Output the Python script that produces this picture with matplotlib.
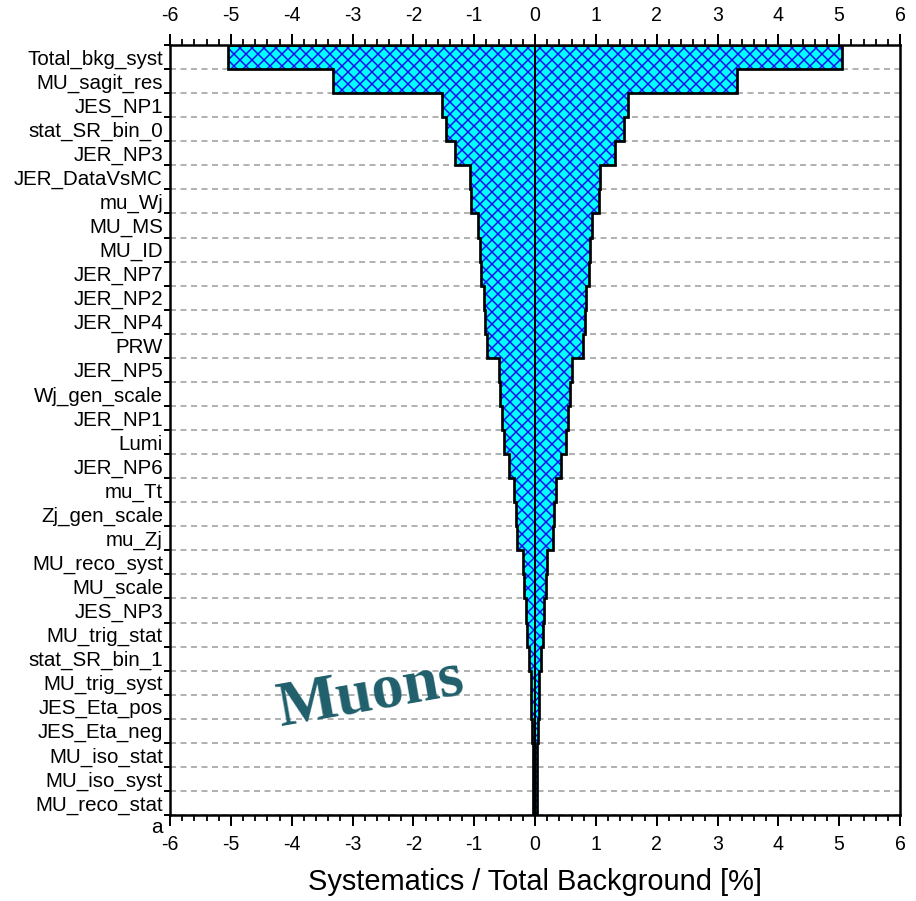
import numpy as np
import matplotlib
matplotlib.use('Agg')
import matplotlib.pyplot as plt
from matplotlib.ticker import MultipleLocator, FixedLocator
from matplotlib.transforms import blended_transform_factory

# systematic uncertainties, relative to total background [%], largest first
syst_names = [
    'Total_bkg_syst', 'MU_sagit_res', 'JES_NP1', 'stat_SR_bin_0', 'JER_NP3',
    'JER_DataVsMC', 'mu_Wj', 'MU_MS', 'MU_ID', 'JER_NP7', 'JER_NP2', 'JER_NP4',
    'PRW', 'JER_NP5', 'Wj_gen_scale', 'JER_NP1', 'Lumi', 'JER_NP6', 'mu_Tt',
    'Zj_gen_scale', 'mu_Zj', 'MU_reco_syst', 'MU_scale', 'JES_NP3',
    'MU_trig_stat', 'stat_SR_bin_1', 'MU_trig_syst', 'JES_Eta_pos',
    'JES_Eta_neg', 'MU_iso_stat', 'MU_iso_syst', 'MU_reco_stat',
]
syst_vals = np.array([
    5.05, 3.32, 1.53, 1.47, 1.31,
    1.07, 1.05, 0.93, 0.91, 0.89, 0.84, 0.82,
    0.79, 0.60, 0.57, 0.55, 0.51, 0.43, 0.35,
    0.32, 0.29, 0.19, 0.18, 0.145,
    0.13, 0.095, 0.065, 0.06,
    0.05, 0.04, 0.035, 0.03,
])
extra_label = 'a'
x_ticks = np.arange(-6, 7)

plt.rcParams['font.family'] = ['Liberation Sans', 'DejaVu Sans']
plt.rcParams['hatch.linewidth'] = 1.5

DPI = 72
fig = plt.figure(figsize=(916 / DPI, 901 / DPI), dpi=DPI)
ax = fig.add_axes([170 / 916, 1 - 815 / 901, 730 / 916, 770 / 901])

n = len(syst_names)
rows = np.arange(n)
edges = np.arange(n + 1) - 0.5

# symmetric band, filled + hatched, then outlined
ax.stairs(syst_vals, edges, baseline=-syst_vals, orientation='horizontal',
          fill=True, facecolor='#00ffff', edgecolor='#1010ee', linewidth=0,
          hatch='xx', zorder=2)
ax.stairs(syst_vals, edges, baseline=-syst_vals, orientation='horizontal',
          fill=False, color='black', linewidth=2.7, zorder=3)
ax.axvline(0, color='black', linewidth=2, zorder=4)

ax.set_xlim(-6, 6)
ax.set_ylim(n - 0.5, -0.5)

ax.set_xticks(x_ticks)
ax.set_xticklabels([str(t) for t in x_ticks])
ax.xaxis.set_minor_locator(MultipleLocator(0.2))
ax.tick_params(axis='x', which='both', top=True, bottom=True,
               labeltop=True, labelbottom=True, direction='out',
               labelsize=19.5, pad=9)
ax.tick_params(axis='x', which='major', length=11, width=2)
ax.tick_params(axis='x', which='minor', length=6, width=1.8)

ax.set_yticks(rows)
ax.set_yticklabels(syst_names)
ax.yaxis.set_minor_locator(FixedLocator(edges))
ax.tick_params(axis='y', which='major', length=0, pad=7, labelsize=20.5)
ax.tick_params(axis='y', which='minor', left=True, right=False,
               direction='out', length=6, width=2)

ax.grid(axis='y', which='minor', linestyle=(0, (4, 3)), color='#999999',
        linewidth=1.5)
ax.grid(axis='y', which='major', visible=False)
ax.set_axisbelow(True)

for sp in ax.spines.values():
    sp.set_linewidth(2.5)

trans = blended_transform_factory(ax.transAxes, ax.transData)
ax.text(-0.01, n, extra_label, transform=trans, ha='right', va='center',
        fontsize=20.5, clip_on=False)

ax.set_xlabel('Systematics / Total Background [%]', fontsize=29, labelpad=14)

ax.text(-2.7, 26.5, 'Muons', family='Liberation Serif', fontweight='bold',
        fontsize=64, color='#1f5f6b', rotation=10, ha='center', va='center')

fig.savefig('out.png', dpi=DPI)
